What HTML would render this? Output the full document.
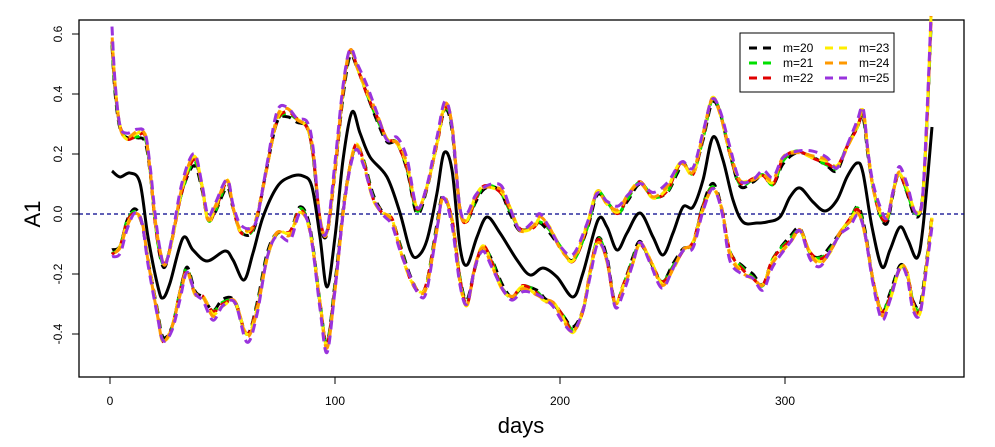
<!DOCTYPE html>
<html><head><meta charset="utf-8"><style>
body{margin:0;background:#fff;}
svg{display:block;font-family:"Liberation Sans",Arial,sans-serif;}
</style></head><body>
<svg id="s" width="995" height="447" xmlns="http://www.w3.org/2000/svg">
<rect x="79" y="20" width="885" height="357" fill="none" stroke="#000" stroke-width="1.3"/>
<line x1="79" y1="214" x2="964" y2="214" stroke="#00008b" stroke-width="1.2" stroke-dasharray="4,3"/>
<g stroke="#000" stroke-width="1">
<line x1="110" y1="377" x2="785" y2="377"/>
<line x1="110" y1="377" x2="110" y2="384"/><line x1="335" y1="377" x2="335" y2="384"/>
<line x1="560" y1="377" x2="560" y2="384"/><line x1="785" y1="377" x2="785" y2="384"/>
<line x1="79" y1="334" x2="79" y2="34"/>
<line x1="72" y1="34" x2="79" y2="34"/><line x1="72" y1="94" x2="79" y2="94"/><line x1="72" y1="154" x2="79" y2="154"/>
<line x1="72" y1="214" x2="79" y2="214"/><line x1="72" y1="274" x2="79" y2="274"/><line x1="72" y1="334" x2="79" y2="334"/>
</g>
<g font-size="12" text-anchor="middle" fill="#000">
<text x="110" y="405">0</text><text x="335" y="405">100</text><text x="560" y="405">200</text><text x="785" y="405">300</text>
<text transform="translate(62,34) rotate(-90)">0.6</text>
<text transform="translate(62,94) rotate(-90)">0.4</text>
<text transform="translate(62,154) rotate(-90)">0.2</text>
<text transform="translate(62,214) rotate(-90)">0.0</text>
<text transform="translate(62,274) rotate(-90)">-0.2</text>
<text transform="translate(62,334) rotate(-90)">-0.4</text>
</g>
<text x="521" y="433" font-size="22" text-anchor="middle">days</text>
<text transform="translate(40,214) rotate(-90)" font-size="22" text-anchor="middle">A1</text>
<g id="series"></g>
<rect x="740" y="33" width="154" height="59" fill="#fff" stroke="#000" stroke-width="1"/>
<g stroke-width="3" stroke-dasharray="8,6">
<line x1="749" y1="48" x2="776" y2="48" stroke="#000"/>
<line x1="749" y1="63" x2="776" y2="63" stroke="#00e000"/>
<line x1="749" y1="78" x2="776" y2="78" stroke="#e00000"/>
<line x1="825" y1="48" x2="852" y2="48" stroke="#ffee00"/>
<line x1="825" y1="63" x2="852" y2="63" stroke="#ff9900"/>
<line x1="825" y1="78" x2="852" y2="78" stroke="#9933dd"/>
</g>
<g font-size="12" fill="#000">
<text x="783" y="52">m=20</text><text x="783" y="67">m=21</text><text x="783" y="82">m=22</text>
<text x="859" y="52">m=23</text><text x="859" y="67">m=24</text><text x="859" y="82">m=25</text>
</g>
</svg>
<script>
var C=[[112,171],[120,177],[130,173],[140,183],[148,237],[158,287],[163,298],[170,283],[183,238],[193,250],[207,261],[225,251],[233,260],[244,280],[253,253],[263,217],[277,187],[290,177],[303,176],[312,187],[320,237],[327,287],[335,237],[343,160],[352,112],[360,133],[370,157],[387,177],[400,213],[410,250],[417,257],[427,240],[437,193],[444,153],[452,170],[460,247],[467,265],[477,237],[487,217],[500,233],[517,260],[530,275],[543,268],[557,277],[573,297],[583,273],[598,220],[607,227],[617,250],[627,233],[640,213],[653,237],[663,255],[673,233],[683,207],[693,207],[703,180],[713,137],[723,160],[733,200],[743,222],[757,223],[767,222],[780,217],[790,197],[800,188],[813,202],[825,211],[837,200],[847,177],[857,163],[863,173],[872,227],[882,267],[890,250],[900,227],[908,240],[917,258],[923,227],[932,127]];
var U=[[112,40],[115,87],[120,127],[127,138],[137,135],[145,137],[150,170],[155,220],[160,253],[165,265],[172,240],[182,190],[194,160],[202,187],[208,220],[215,210],[227,183],[233,207],[240,230],[250,232],[257,217],[267,167],[277,120],[287,112],[297,120],[307,127],[313,153],[320,220],[327,233],[335,170],[343,93],[350,52],[357,67],[367,93],[377,117],[387,140],[397,143],[407,167],[417,210],[427,187],[437,143],[445,107],[452,127],[460,210],[467,220],[475,200],[483,188],[493,187],[502,193],[510,210],[520,230],[533,227],[540,220],[550,230],[560,247],[573,260],[587,227],[597,193],[607,203],[618,212],[628,197],[640,183],[653,197],[667,190],[677,170],[683,163],[693,173],[703,137],[712,100],[720,113],[730,153],[740,183],[753,180],[763,175],[773,183],[783,160],[797,152],[813,157],[827,163],[837,168],[847,147],[857,127],[863,113],[868,153],[873,187],[880,213],[887,220],[893,193],[899,173],[907,190],[915,213],[922,203],[927,120],[931,20]];
var L=[[112,253],[120,247],[127,223],[135,212],[142,223],[148,260],[157,310],[163,340],[172,327],[180,293],[187,270],[195,293],[203,297],[213,313],[223,303],[235,302],[247,335],[257,307],[267,257],[277,233],[290,233],[300,210],[310,230],[320,303],[327,345],[335,287],[345,197],[355,147],[363,160],[373,197],[383,213],[392,220],[400,247],[410,277],[420,293],[427,283],[437,227],[443,197],[452,220],[460,280],[467,303],[475,267],[483,247],[492,263],[502,287],[512,297],[523,287],[537,293],[545,300],[553,303],[563,317],[573,330],[583,310],[590,273],[598,240],[607,260],[615,303],[623,287],[633,260],[640,243],[650,260],[662,283],[673,267],[683,250],[693,243],[703,207],[713,187],[722,210],[730,253],[743,270],[753,277],[763,285],[773,260],[790,240],[800,230],[810,253],[820,260],[830,250],[840,233],[850,220],[858,210],[865,233],[873,280],[882,313],[890,297],[900,267],[907,273],[913,303],[920,310],[927,260],[932,217]];
function cy(x){for(var i=0;i<C.length-1;i++){if(x<=C[i+1][0]){var t=Math.max(0,(x-C[i][0])/(C[i+1][0]-C[i][0]));return C[i][1]+t*(C[i+1][1]-C[i][1]);}}return C[C.length-1][1];}
function path(P){var d="M"+P[0][0]+","+P[0][1];for(var i=0;i<P.length-1;i++){var p0=P[Math.max(i-1,0)],p1=P[i],p2=P[i+1],p3=P[Math.min(i+2,P.length-1)];
var c1x=p1[0]+(p2[0]-p0[0])/6,c1y=p1[1]+(p2[1]-p0[1])/6,c2x=p2[0]-(p3[0]-p1[0])/6,c2y=p2[1]-(p3[1]-p1[1])/6;
d+=" C"+c1x.toFixed(1)+","+c1y.toFixed(1)+" "+c2x.toFixed(1)+","+c2y.toFixed(1)+" "+p2[0]+","+p2[1];}return d;}
function sc(P,k,ph,a){return P.map(function(p,i){var c=cy(p[0]);var y=c+(p[1]-c)*k+Math.sin(i*1.7+ph)*a;return [p[0],Math.max(16,Math.min(378,y)).toFixed(1)*1];});}
var S=[["#000",0.96,0,2],["#00e000",0.99,1,1.5],["#e00000",1.0,2,1.5],["#ffee00",1.02,3,2],["#ff9900",1.03,4,2],["#9933dd",1.08,5,3]];
var g=document.getElementById("series"),h="";
S.forEach(function(s){[U,L].forEach(function(B){h+='<path d="'+path(sc(B,s[1],s[2],s[3]))+'" fill="none" stroke="'+s[0]+'" stroke-width="3" stroke-dasharray="9,6" stroke-dashoffset="'+(s[2]*3)+'"/>';});});
h+='<path d="'+path(C)+'" fill="none" stroke="#000" stroke-width="3"/>';
g.innerHTML=h;
</script>
</body></html>
